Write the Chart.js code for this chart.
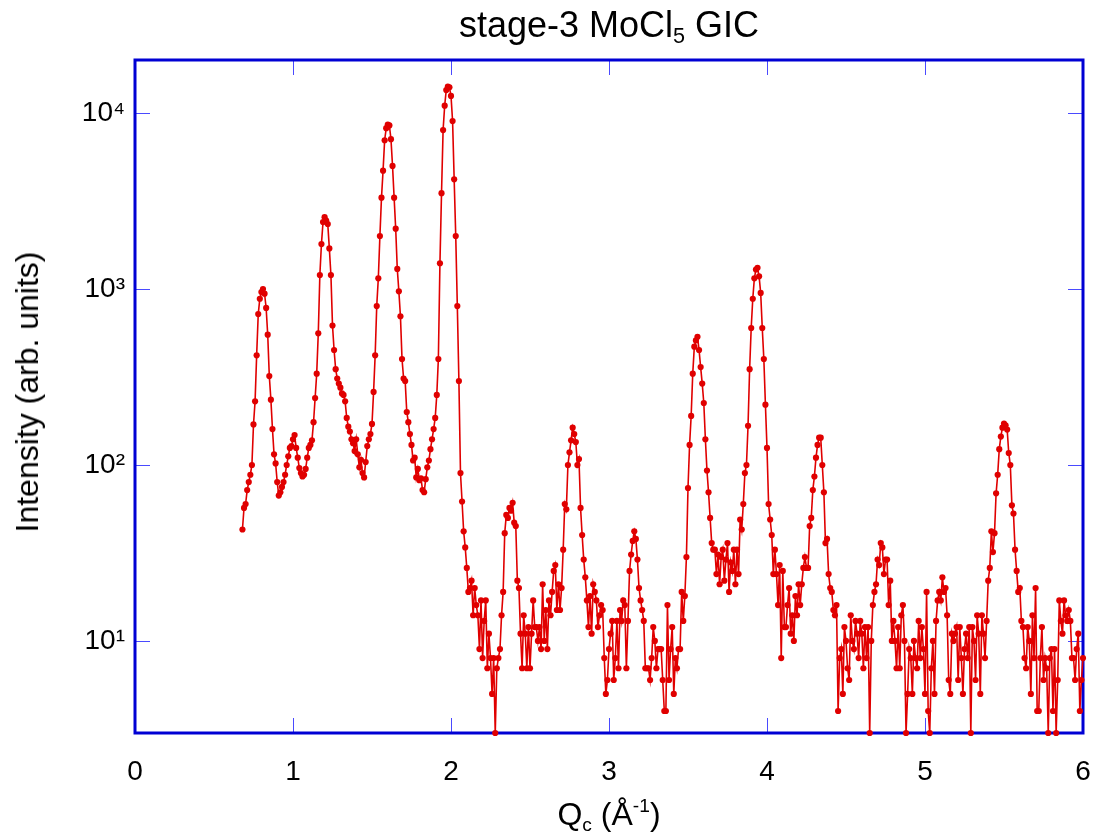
<!DOCTYPE html>
<html>
<head>
<meta charset="utf-8">
<script src="https://cdn.jsdelivr.net/npm/chart.js"></script>
<style>
  body { margin: 0; background: #fff; }
  #wrap { position: relative; width: 1094px; height: 837px; font-family: "Liberation Sans", Arial, sans-serif; color: #000; }
  #chart { position: absolute; left: 0; top: 0; }
  .lbl { position: absolute; white-space: nowrap; line-height: 1; }
  #title { left: 135px; width: 948px; top: 7px; text-align: center; font-size: 36px; }
  #xTitle { left: 135px; width: 948px; top: 798px; text-align: center; font-size: 32px; }
  #yTitle { left: 27px; top: 392px; font-size: 32px; transform: translate(-50%, -50%) rotate(-90deg); }
  sub { font-size: 0.6em; vertical-align: -0.3em; line-height: 0; }
  sup { font-size: 0.6em; vertical-align: 0.7em; line-height: 0; }
</style>
</head>
<body>
<div id="wrap">
  <canvas id="chart" width="1094" height="837"></canvas>
  <div class="lbl" id="title">stage-3 MoCl<sub>5</sub> GIC</div>
  <div class="lbl" id="xTitle">Q<sub>c</sub> (Å<sup>-1</sup>)</div>
  <div class="lbl" id="yTitle">Intensity (arb. units)</div>
</div>

<script>
// scan grid: Q from 0.68 in steps of 0.01 (1/Å)
var qStart = 0.68;
var qStep = 0.01;

// intensity, one row per 0.1 in Q
var intensity = [
  43, 57,                                                   // 0.68
  60, 72, 80, 88, 100, 170, 230, 420, 720, 880,             // 0.70
  960, 1000, 940, 780, 550, 320, 235, 160, 115, 102,        // 0.80
  80, 67, 70, 75, 80, 88, 100, 112, 125, 128,               // 0.90
  140, 148, 125, 110, 96, 90, 86, 88, 95, 110,              // 1.00
  125, 130, 138, 175, 240, 330, 560, 1200, 1800, 2400,      // 1.10
  2560, 2450, 2340, 1700, 1200, 620, 450, 350, 310, 290,    // 1.20
  275, 255, 250, 230, 185, 165, 155, 140, 133, 120,         // 1.30
  140, 115, 97, 107, 90, 85, 104, 128, 140, 150,            // 1.40
  171, 260, 420, 800, 1150, 2000, 3300, 4700, 7000, 8200,   // 1.50
  8600, 8500, 7100, 5000, 3300, 2200, 1300, 970, 700, 400,  // 1.60
  310, 300, 200, 175, 150, 130, 106, 110, 85, 95,           // 1.70
  82, 84, 72, 70, 83, 97, 106, 123, 140, 160,               // 1.80
  185, 250, 400, 1400, 3500, 8000, 11000, 13500, 14100, 14000, // 1.90
  12500, 9000, 4200, 2000, 800, 300, 90, 62, 42, 34,        // 2.00
  26, 19, 20, 22, 14, 20, 16, 14, 9, 17,                    // 2.10
  8, 13, 17, 7, 11, 8, 5, 8, 3, 7,                          // 2.20
  8, 9, 14, 19, 41, 52, 50, 57, 55, 61,                     // 2.30
  47, 45, 22, 20, 11, 7, 14, 11, 7, 12,                     // 2.40
  7, 11, 17, 12, 12, 10, 12, 9, 21, 10,                     // 2.50
  15, 9, 17, 14, 19, 25, 27, 15, 21, 15,                    // 2.60
  20, 33, 60, 56, 100, 118, 138, 163, 150, 135,             // 2.70
  100, 108, 57, 40, 29, 23, 17, 12, 18, 11,                 // 2.80
  21, 19, 17, 12, 14, 16, 15, 8, 5, 6,                      // 2.90
  9, 11, 13, 6, 8, 13, 7, 15, 13, 17,                       // 3.00
  16, 7, 13, 25, 31, 37, 42, 38, 29, 20,                    // 3.10
  17, 15, 13, 7, 7, 7, 6, 8, 12, 10,                        // 3.20
  7, 9, 9, 9, 6, 4, 4, 16, 6, 9,                            // 3.30
  12, 5, 8, 7, 9, 9, 19, 13, 18, 30,                        // 3.40
  74, 130, 190, 330, 470, 510, 535, 450, 360, 290,          // 3.50
  225, 140, 93, 70, 50, 36, 33, 33, 24, 31,                 // 3.60
  21, 30, 33, 22, 29, 36, 19, 28, 25, 33,                   // 3.70
  21, 33, 24, 49, 43, 60, 90, 100, 167, 350,                // 3.80
  600, 880, 1150, 1290, 1320, 1180, 950, 600, 400, 220,     // 3.90
  125, 60, 49, 40, 24, 33, 24, 16, 27, 8,                   // 4.00
  25, 12, 12, 16, 20, 11, 14, 10, 18, 14,                   // 4.10
  21, 16, 21, 26, 30, 26, 26, 45, 50, 72,                   // 4.20
  86, 110, 130, 143, 143, 100, 70, 36, 38, 24,              // 4.30
  20, 19, 15, 14, 16, 4, 8, 9, 5, 12,                       // 4.40
  10, 7, 6, 14, 10, 9, 13, 11, 8, 13,                       // 4.50
  11, 7, 12, 8, 12, 3, 10, 16, 19, 21,                      // 4.60
  29, 27, 36, 34, 24, 29, 29, 16, 22, 10,                   // 4.70
  13, 10, 7, 12, 7, 14, 16, 10, 3, 5,                       // 4.80
  9, 8, 5, 10, 8, 7, 13, 8, 12, 9,                          // 4.90
  5, 19, 4, 3, 7, 10, 5, 13, 17, 19,                        // 5.00
  17, 23, 19, 20, 14, 6, 5, 11, 10, 11,                     // 5.10
  12, 6, 12, 8, 5, 9, 11, 8, 12, 3,                         // 5.20
  12, 10, 6, 14, 11, 5, 14, 11, 8, 13,                      // 5.30
  22, 26, 42, 32, 41, 69, 88, 123, 145, 163,                // 5.40
  172, 168, 159, 117, 100, 59, 53, 33, 25, 19,              // 5.50
  20, 13, 12, 8, 7, 12, 10, 5, 14, 8,                       // 5.60
  20, 4, 4, 8, 12, 6, 8, 7, 3, 8,                           // 5.70
  9, 4, 9, 3, 6, 17, 13, 11, 17, 14,                        // 5.80
  13, 15, 13, 8, 8, 6, 9, 11, 4, 6,                         // 5.90
  8                                                         // 6.00
];

var xTickValues = [0, 1, 2, 3, 4, 5, 6];
var yTickValues = [10, 100, 1000, 10000];
var yTickLabels = ['10\u00B9', '10\u00B2', '10\u00B3', '10\u2074'];

var fontFamily = '"Liberation Sans", Arial, sans-serif';

var points = intensity.map(function (v, i) {
  return { x: +(qStart + i * qStep).toFixed(2), y: v };
});

// blue frame plus short inward ticks, like the original plot program
var framePlugin = {
  id: 'frame',
  beforeDatasetsDraw: function (chart) {
    var a = chart.chartArea, c = chart.ctx;
    var xs = chart.scales.x, ys = chart.scales.y;
    var len = 15;
    c.save();
    c.strokeStyle = '#4a4aff';
    c.lineWidth = 1;
    c.beginPath();
    xTickValues.forEach(function (v) {
      if (v <= xs.min || v >= xs.max) return;
      var px = Math.round(xs.getPixelForValue(v)) + 0.5;
      c.moveTo(px, a.bottom); c.lineTo(px, a.bottom - len);
      c.moveTo(px, a.top); c.lineTo(px, a.top + len);
    });
    yTickValues.forEach(function (v) {
      var py = Math.round(ys.getPixelForValue(v)) + 0.5;
      c.moveTo(a.left, py); c.lineTo(a.left + len, py);
      c.moveTo(a.right, py); c.lineTo(a.right - len, py);
    });
    c.stroke();
    c.strokeStyle = '#0000d4';
    c.lineWidth = 3;
    c.strokeRect(a.left, a.top, a.right - a.left, a.bottom - a.top);
    c.restore();
  }
};

new Chart(document.getElementById('chart'), {
  type: 'line',
  data: {
    datasets: [{
      data: points,
      borderColor: '#e00000',
      backgroundColor: '#e00000',
      borderWidth: 1.6,
      pointRadius: 3.1,
      pointBorderWidth: 0,
      pointHoverRadius: 3.1,
      tension: 0,
      clip: 6
    }]
  },
  options: {
    responsive: false,
    animation: false,
    events: [],
    layout: { padding: { left: 0, right: 11, top: 60, bottom: 0 } },
    plugins: { legend: { display: false }, tooltip: { enabled: false } },
    scales: {
      x: {
        type: 'linear',
        min: 0,
        max: 6,
        afterBuildTicks: function (s) { s.ticks = xTickValues.map(function (v) { return { value: v }; }); },
        afterFit: function (s) { s.height = 104; s.paddingLeft = 0; s.paddingRight = 0; },
        grid: { display: false, drawTicks: false },
        border: { display: false },
        ticks: { color: '#000', padding: 22, maxRotation: 0, font: { family: fontFamily, size: 28 } }
      },
      y: {
        type: 'logarithmic',
        min: 3,
        max: 20000,
        afterBuildTicks: function (s) { s.ticks = yTickValues.map(function (v) { return { value: v }; }); },
        afterFit: function (s) { s.width = 135; s.paddingTop = 0; s.paddingBottom = 0; },
        grid: { display: false, drawTicks: false },
        border: { display: false },
        ticks: {
          color: '#000',
          padding: 10,
          font: { family: fontFamily, size: 28 },
          callback: function (value) {
            var i = yTickValues.indexOf(value);
            return i < 0 ? '' : yTickLabels[i];
          }
        }
      }
    }
  },
  plugins: [framePlugin]
});
</script>
</body>
</html>
